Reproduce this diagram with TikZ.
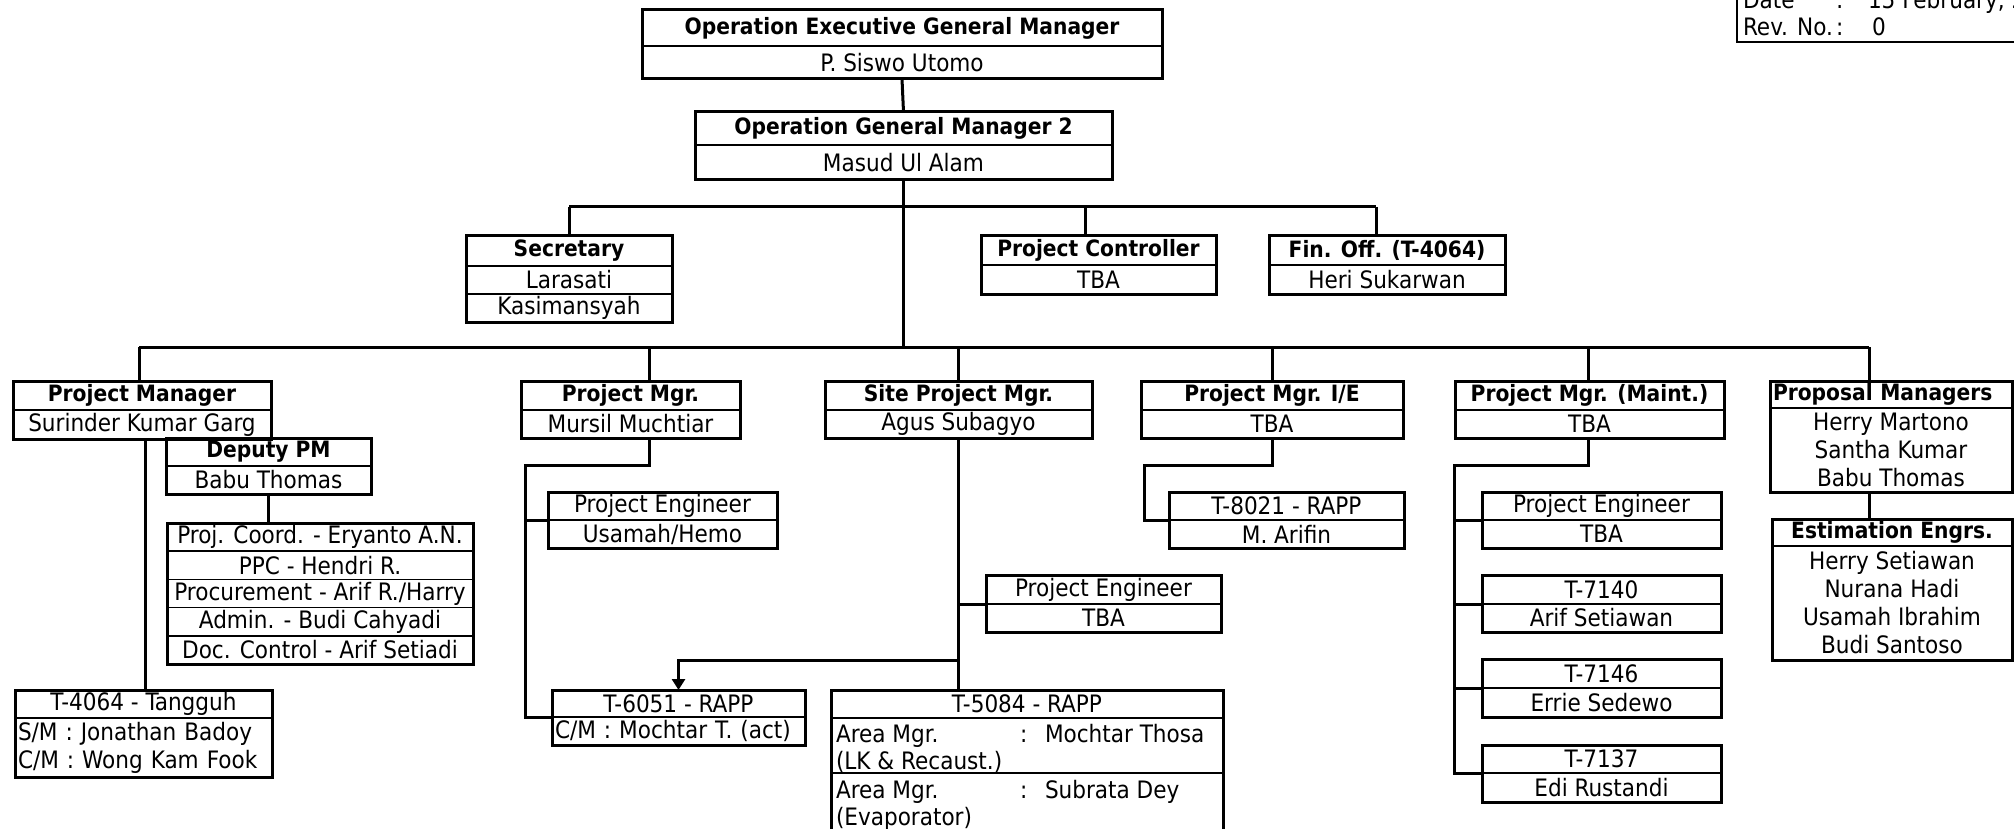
\documentclass[tikz,border=0pt]{standalone}
\usepackage{fontspec}
\setmainfont{DejaVu Sans Condensed}[BoldFont={DejaVu Sans Condensed Bold}]
\usetikzlibrary{arrows.meta}

\newcommand\rf{\fontsize{24}{28}\selectfont}
\newcommand\hf{\fontsize{22.5}{28}\selectfont\bfseries}

\tikzset{
  cell/.style={draw=black, line width=1.6pt, inner sep=0pt, outer sep=0pt, font=\rf},
  head/.style={font=\hf},
  txt/.style={inner sep=0pt, outer sep=0pt, font=\rf},
  frame/.style={draw=black, line width=3pt},
  wire/.style={draw=black, line width=3pt, line join=miter},
  arr/.style={wire, -{Triangle[length=11pt,width=13pt]}},
}

% one row of a box: [style] name, left, top, width, height, text
\newcommand\cell[7][]{\node[cell,#1,minimum width=#5pt,minimum height=#6pt] (#2) at ({#3+#5/2},{#4+#6/2}) {#7};}
% heavy outline round the rows of one box
\newcommand\frm[2]{\draw[frame] (#1.north west) rectangle (#2.south east);}

\begin{document}
\begin{tikzpicture}[x=1pt,y=-1pt]
\useasboundingbox[fill=white] (0,0) rectangle (2014,829);

% ---------- top management ----------
\cell[head]{oegmA}{642}{10}{520}{36}{Operation Executive General Manager}
\cell{oegmB}{642}{46}{520}{33}{P. Siswo Utomo}
\frm{oegmA}{oegmB}

\cell[head]{ogmA}{695}{112}{417}{33}{Operation General Manager 2}
\cell{ogmB}{695}{145}{417}{35}{Masud Ul Alam}
\frm{ogmA}{ogmB}

% ---------- staff ----------
\cell[head]{secA}{466}{236}{206}{30}{Secretary}
\cell{secB}{466}{266}{206}{28}{Larasati}
\cell{secC}{466}{294}{206}{28}{Kasimansyah}
\frm{secA}{secC}

\cell[head]{pcA}{981}{236}{235}{29}{Project Controller}
\cell{pcB}{981}{265}{235}{29}{TBA}
\frm{pcA}{pcB}

\cell[head]{finA}{1269}{236}{236}{29}{Fin. Off. (T-4064)}
\cell{finB}{1269}{265}{236}{29}{Heri Sukarwan}
\frm{finA}{finB}

% ---------- project manager ----------
\cell[head]{pmA}{13}{381}{258}{29}{Project Manager}
\cell{pmB}{13}{410}{258}{29}{Surinder Kumar Garg}
\frm{pmA}{pmB}

\cell[head]{dpA}{166}{438}{205}{28}{Deputy PM}
\cell{dpB}{166}{466}{205}{28}{Babu Thomas}
\frm{dpA}{dpB}

\cell{lstA}{167}{523}{306}{28.2}{Proj. Coord. - Eryanto A.N.}
\cell{lstB}{167}{551.2}{306}{28.2}{PPC - Hendri R.}
\cell{lstC}{167}{579.4}{306}{28.2}{Procurement - Arif R./Harry}
\cell{lstD}{167}{607.6}{306}{28.2}{Admin. - Budi Cahyadi}
\cell{lstE}{167}{635.8}{306}{28.2}{Doc. Control - Arif Setiadi}
\frm{lstA}{lstE}

\cell{t40A}{15}{690}{257}{28}{T-4064 - Tangguh}
\cell[text width=251pt,align=left]{t40B}{15}{718}{257}{59}{S/M : Jonathan Badoy\\C/M : Wong Kam Fook}
\frm{t40A}{t40B}

% ---------- project mgr. ----------
\cell[head]{pm2A}{521}{381}{219}{29}{Project Mgr.}
\cell{pm2B}{521}{410}{219}{28}{Mursil Muchtiar}
\frm{pm2A}{pm2B}

\cell{peuA}{548}{492}{229}{28}{Project Engineer}
\cell{peuB}{548}{520}{229}{28}{Usamah/Hemo}
\frm{peuA}{peuB}

\cell{t60A}{552}{690}{253}{27}{T-6051 - RAPP}
\cell[text width=247pt,align=left]{t60B}{552}{717}{253}{28}{C/M : Mochtar T. (act)}
\frm{t60A}{t60B}

% ---------- site project mgr. ----------
\cell[head]{spA}{825}{381}{267}{29}{Site Project Mgr.}
\cell{spB}{825}{410}{267}{28}{Agus Subagyo}
\frm{spA}{spB}

\cell{petA}{986}{575}{235}{29}{Project Engineer}
\cell{petB}{986}{604}{235}{28}{TBA}
\frm{petA}{petB}

\cell{t50A}{831}{690}{392}{28}{T-5084 - RAPP}
\cell{t50B}{831}{718}{392}{55}{}
\cell{t50C}{831}{773}{392}{75}{}
\frm{t50A}{t50C}
\node[txt,anchor=base west] (am1) at (836,742) {Area Mgr.};
\node[txt,anchor=base west] (am1c) at (1020,742) {:};
\node[txt,anchor=base west] (am1n) at (1045,742) {Mochtar Thosa};
\node[txt,anchor=base west] (am1s) at (836,769) {(LK \& Recaust.)};
\node[txt,anchor=base west] (am2) at (836,798) {Area Mgr.};
\node[txt,anchor=base west] (am2c) at (1020,798) {:};
\node[txt,anchor=base west] (am2n) at (1045,798) {Subrata Dey};
\node[txt,anchor=base west] (am2s) at (836,825) {(Evaporator)};

% ---------- project mgr. I/E ----------
\cell[head]{pieA}{1141}{381}{262}{29}{Project Mgr. I/E}
\cell{pieB}{1141}{410}{262}{28}{TBA}
\frm{pieA}{pieB}

\cell{t80A}{1169}{492}{235}{28}{T-8021 - RAPP}
\cell{t80B}{1169}{520}{235}{28}{M. Arifin}
\frm{t80A}{t80B}

% ---------- project mgr. (maint.) ----------
\cell[head]{pmmA}{1455}{381}{269}{29}{Project Mgr. (Maint.)}
\cell{pmmB}{1455}{410}{269}{28}{TBA}
\frm{pmmA}{pmmB}

\cell{pemA}{1482}{492}{239}{28}{Project Engineer}
\cell{pemB}{1482}{520}{239}{28}{TBA}
\frm{pemA}{pemB}

\cell{k40A}{1482}{575}{239}{29}{T-7140}
\cell{k40B}{1482}{604}{239}{28}{Arif Setiawan}
\frm{k40A}{k40B}

\cell{k46A}{1482}{659}{239}{29}{T-7146}
\cell{k46B}{1482}{688}{239}{29}{Errie Sedewo}
\frm{k46A}{k46B}

\cell{k37A}{1482}{745}{239}{28}{T-7137}
\cell{k37B}{1482}{773}{239}{29}{Edi Rustandi}
\frm{k37A}{k37B}

% ---------- proposal / estimation ----------
\cell[head,text width=236pt,align=left]{propA}{1770}{381}{242}{27}{Proposal Managers}
\cell[align=center]{propB}{1770}{408}{242}{84}{Herry Martono\\Santha Kumar\\Babu Thomas}
\frm{propA}{propB}

\cell[head]{estA}{1772}{519}{240}{27}{Estimation Engrs.}
\cell[align=center]{estB}{1772}{546}{240}{114}{Herry Setiawan\\Nurana Hadi\\Usamah Ibrahim\\Budi Santoso}
\frm{estA}{estB}

% ---------- document stamp ----------
\coordinate (stTL) at (1737,-5);
\coordinate (stBR) at (2020,42);
\draw[line width=2pt] (stTL) |- (stBR);
\node[txt,anchor=base west] (dt) at (1743,9) {Date};
\node[txt,anchor=base west] (dtc) at (1836,9) {:};
\node[txt,anchor=base west] (dtv) at (1868,9) {15 February, 2};
\node[txt,anchor=base west] (rv) at (1743,36) {Rev. No.};
\node[txt,anchor=base west] (rvc) at (1836,36) {:};
\node[txt,anchor=base west] (rvv) at (1872,36) {0};

% ---------- connectors ----------
\coordinate (ubL) at (569,207);
\coordinate (ubPC) at (1085,207);
\coordinate (ubR) at (1376,207);
\coordinate (mbL) at (139,347);
\coordinate (mb2) at (649,347);
\coordinate (mb3) at (958,347);
\coordinate (mb4) at (1272,347);
\coordinate (mb5) at (1588,347);
\coordinate (mbR) at (1869,347);

\draw[wire] (oegmB.south) -- (ogmA.north);
\draw[wire] (ogmB.south) -- (ogmB.south |- mbL);
\draw[wire] (ubL) -- (ubR);
\draw[wire] (ubL) -- (ubL |- secA.north);
\draw[wire] (ubPC) -- (ubPC |- pcA.north);
\draw[wire] (ubR) -- (ubR |- finA.north);

\draw[wire] (mbL) -- (mbR);
\draw[wire] (mbL) -- (mbL |- pmA.north);
\draw[wire] (mb2) -- (mb2 |- pm2A.north);
\draw[wire] (mb3) -- (mb3 |- spA.north);
\draw[wire] (mb4) -- (mb4 |- pieA.north);
\draw[wire] (mb5) -- (mb5 |- pmmA.north);
\draw[wire] (mbR) -- (mbR |- propA.north);

% project manager branch
\coordinate (pmline) at (145,0);
\draw[wire] (pmB.south -| pmline) -- (t40A.north -| pmline);
\draw[wire] (dpB.south) -- (dpB.south |- lstA.north);

% project mgr. branch
\coordinate (m1) at (649,465);
\coordinate (m2) at (525,465);
\draw[wire] (pm2B.south -| m1) -- (m1) -- (m2) |- (t60A.south west);
\draw[wire] (m2 |- peuA.south west) -- (peuA.south west);

% site project mgr. branch
\coordinate (ar) at (958,660);
\draw[wire] (spB.south -| mb3) -- (t50A.north -| mb3);
\draw[wire] (mb3 |- petA.south west) -- (petA.south west);
\draw[arr] (ar) -| (t60A.north);

% project mgr. I/E branch
\coordinate (i1) at (1272,465);
\coordinate (i2) at (1144,465);
\draw[wire] (pieB.south -| i1) -- (i1) -- (i2) |- (t80A.south west);

% project mgr. (maint.) branch
\coordinate (k1) at (1588,465);
\coordinate (k2) at (1454,465);
\draw[wire] (pmmB.south -| k1) -- (k1) -- (k2) |- (k37A.south west);
\draw[wire] (k2 |- pemA.south west) -- (pemA.south west);
\draw[wire] (k2 |- k40A.south west) -- (k40A.south west);
\draw[wire] (k2 |- k46A.south west) -- (k46A.south west);

% proposal to estimation
\draw[wire] (propB.south -| mbR) -- (estA.north -| mbR);
\end{tikzpicture}
\end{document}
